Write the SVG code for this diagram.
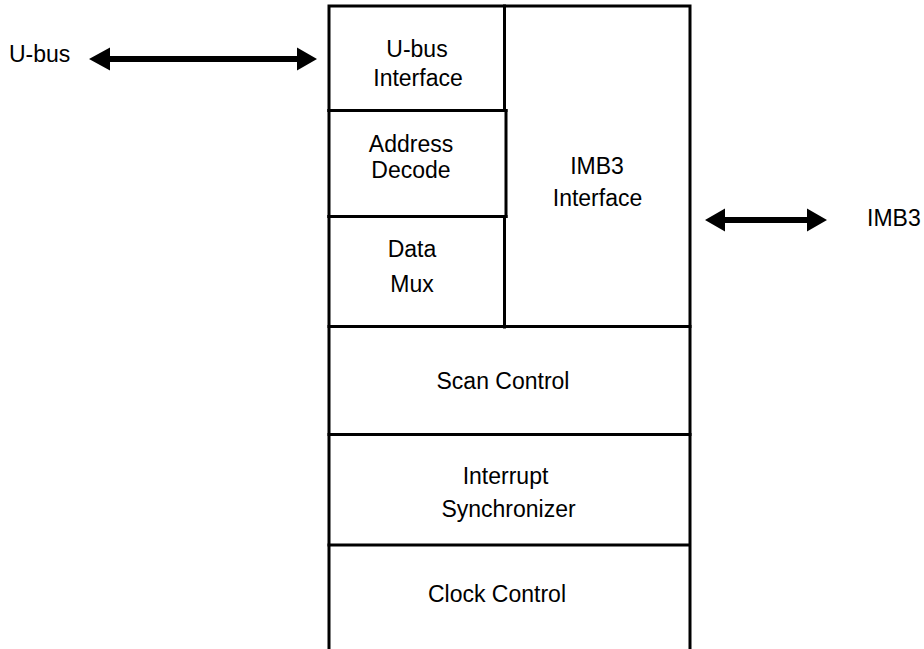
<svg xmlns="http://www.w3.org/2000/svg" width="924" height="649" viewBox="0 0 924 649">
<style>
.ln{stroke:#000;stroke-width:3;fill:none;stroke-linecap:square}
.t{font-family:"Liberation Sans",Arial,sans-serif;font-size:23px;fill:#000;text-anchor:middle}
.tl{font-family:"Liberation Sans",Arial,sans-serif;font-size:23px;fill:#000}
.arr{fill:#000;stroke:none}
</style>
<rect width="924" height="649" fill="#fff"/>
<g id="frame">
<path class="ln" d="M329,6 V649 M690,6 V649 M329,6 H690"/>
</g>
<g id="ubus-interface">
<path class="ln" d="M504.5,6 V110.5 M329,110.5 H506"/>
<text class="t" x="417" y="57">U-bus</text>
<text class="t" x="418" y="86">Interface</text>
</g>
<g id="address-decode">
<path class="ln" d="M329,110.5 H506 V216.5 H329"/>
<text class="t" x="411" y="152">Address</text>
<text class="t" x="411" y="178">Decode</text>
</g>
<g id="data-mux">
<path class="ln" d="M504.5,216.5 V327 M329,216.5 H506"/>
<text class="t" x="412" y="257">Data</text>
<text class="t" x="412" y="292">Mux</text>
</g>
<g id="imb3-interface">
<text class="t" x="597" y="174">IMB3</text>
<text class="t" x="597.5" y="206">Interface</text>
</g>
<g id="scan-control">
<path class="ln" d="M329,326.5 H690"/>
<text class="t" x="503" y="389">Scan Control</text>
</g>
<g id="interrupt-synchronizer">
<path class="ln" d="M329,434.5 H690"/>
<text class="t" x="505.5" y="484">Interrupt</text>
<text class="t" x="508.5" y="517">Synchronizer</text>
</g>
<g id="clock-control">
<path class="ln" d="M329,545 H689"/>
<text class="t" x="497" y="602">Clock Control</text>
</g>
<g id="connectors">
<path class="arr" d="M89,59 L110,47.5 L110,56 L297,56 L297,47.5 L317,59 L297,70.5 L297,62 L110,62 L110,70.5 Z"/>
<path class="arr" d="M705,220 L725,208.5 L725,217 L807,217 L807,208.5 L827,220 L807,231.5 L807,223 L725,223 L725,231.5 Z"/>
</g>
<g id="labels">
<text class="tl" x="9" y="62">U-bus</text>
<text class="tl" x="867" y="226">IMB3</text>
</g>
</svg>
